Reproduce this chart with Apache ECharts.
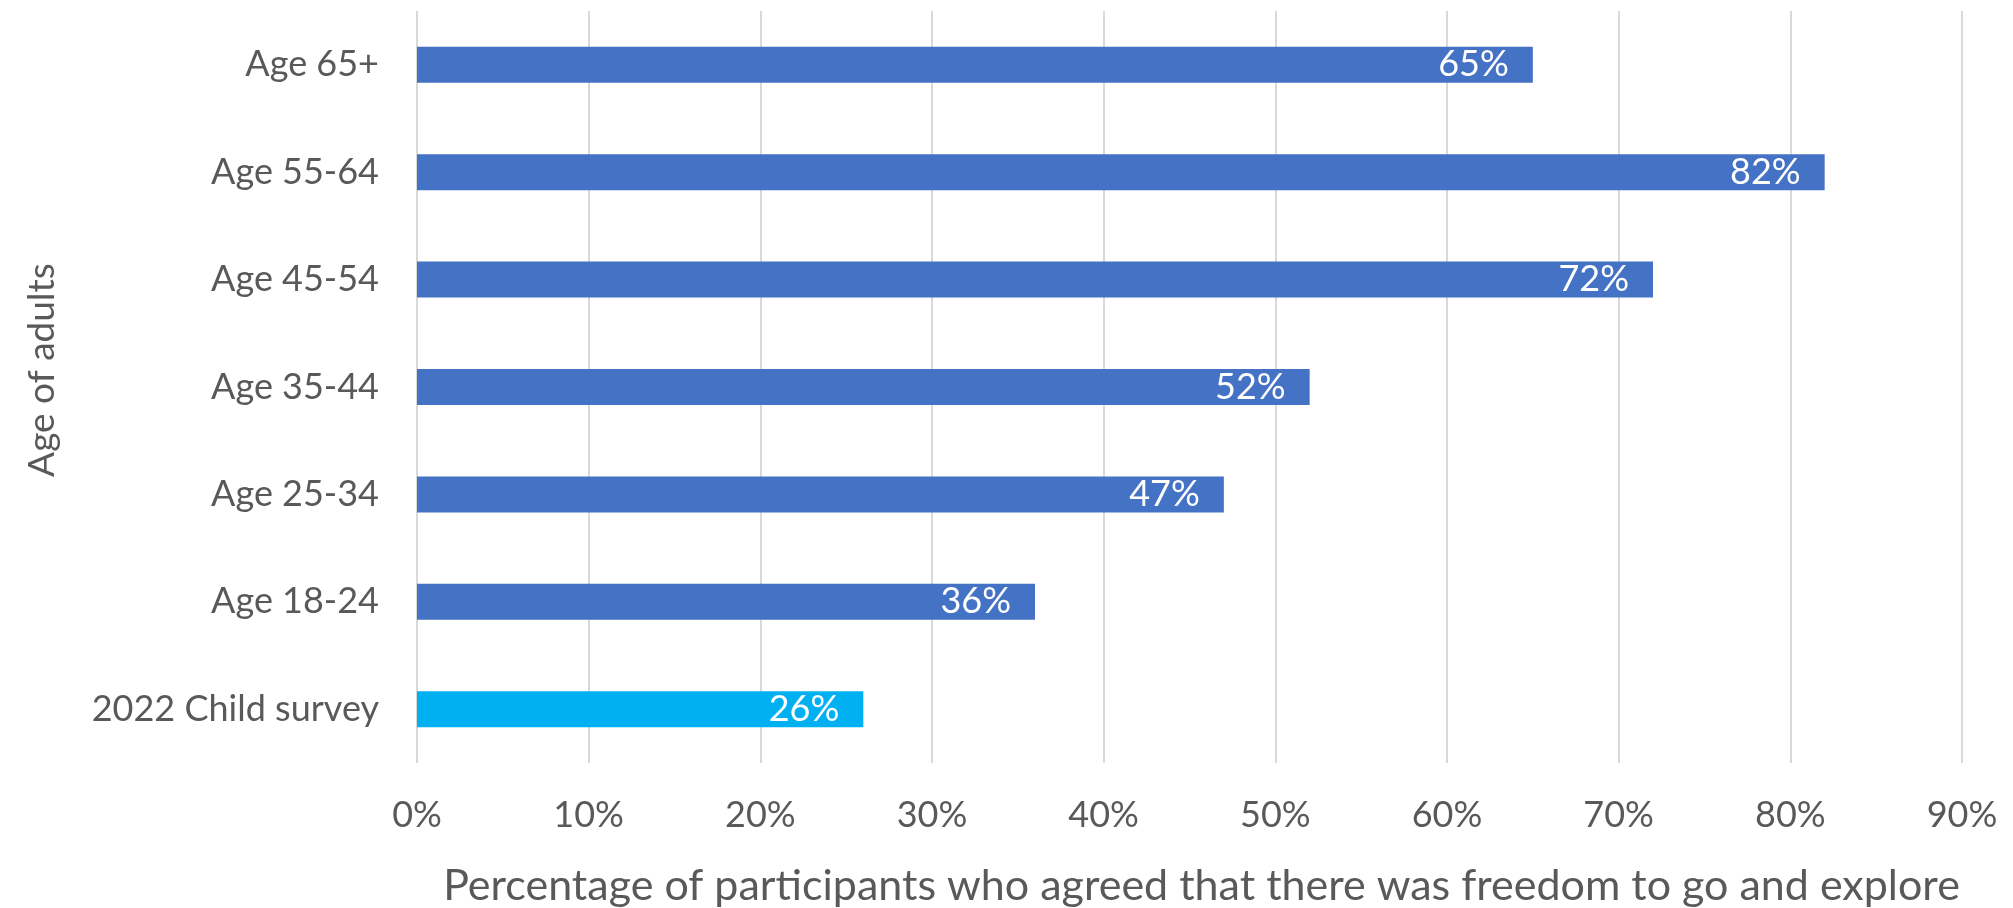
<!DOCTYPE html>
<html>
<head>
<meta charset="utf-8">
<script src="https://cdn.jsdelivr.net/npm/echarts@6/dist/echarts.min.js"></script>
<style>
html,body{margin:0;padding:0;background:#fff;}
#chart{width:2013px;height:908px;}
</style>
</head>
<body>
<div id="chart"></div>
<script>
const categories = ['Age 65+', 'Age 55-64', 'Age 45-54', 'Age 35-44', 'Age 25-34', 'Age 18-24', '2022 Child survey'];
const values = [65, 82, 72, 52, 47, 36, 26];
const barColors = ['#4472C4', '#4472C4', '#4472C4', '#4472C4', '#4472C4', '#4472C4', '#00B0F0'];
const xTicks = { min: 0, max: 90, interval: 10 };
const xTitle = 'Percentage of participants who agreed that there was freedom to go and explore';
const yTitle = 'Age of adults';

const FONT = 'Lato';
const TEXT = '#595959';
const chart = echarts.init(document.getElementById('chart'));
chart.setOption({
  animation: false,
  grid: { left: 417, right: 51, top: 11, bottom: 145, containLabel: false, outerBoundsMode: 'none' },
  xAxis: {
    type: 'value',
    min: xTicks.min, max: xTicks.max, interval: xTicks.interval,
    axisLine: { show: false },
    axisTick: { show: false },
    splitLine: { show: true, lineStyle: { color: '#D9D9D9', width: 2 } },
    axisLabel: { formatter: '{value}%', color: TEXT, fontFamily: FONT, fontSize: 36, margin: 34 },
    name: xTitle,
    nameLocation: 'middle',
    nameGap: 102,
    nameTextStyle: { color: TEXT, fontFamily: FONT, fontSize: 43, padding: [0, 0, 0, 24] }
  },
  yAxis: {
    type: 'category',
    data: categories,
    inverse: true,
    axisLine: { show: false },
    axisTick: { show: false },
    axisLabel: { color: TEXT, fontFamily: FONT, fontSize: 36, margin: 38 },
    name: yTitle,
    nameLocation: 'middle',
    nameRotate: 90,
    nameGap: 356,
    nameTextStyle: { color: TEXT, fontFamily: FONT, fontSize: 37, padding: [0, 0, 0, 34] }
  },
  series: [{
    type: 'bar',
    data: values.map((v, i) => ({ value: v, itemStyle: { color: barColors[i] } })),
    barWidth: 36,
    label: {
      show: true,
      position: 'insideRight',
      distance: 24,
      formatter: '{c}%',
      color: '#ffffff',
      fontFamily: FONT,
      fontSize: 36
    }
  }]
});
</script>
</body>
</html>
